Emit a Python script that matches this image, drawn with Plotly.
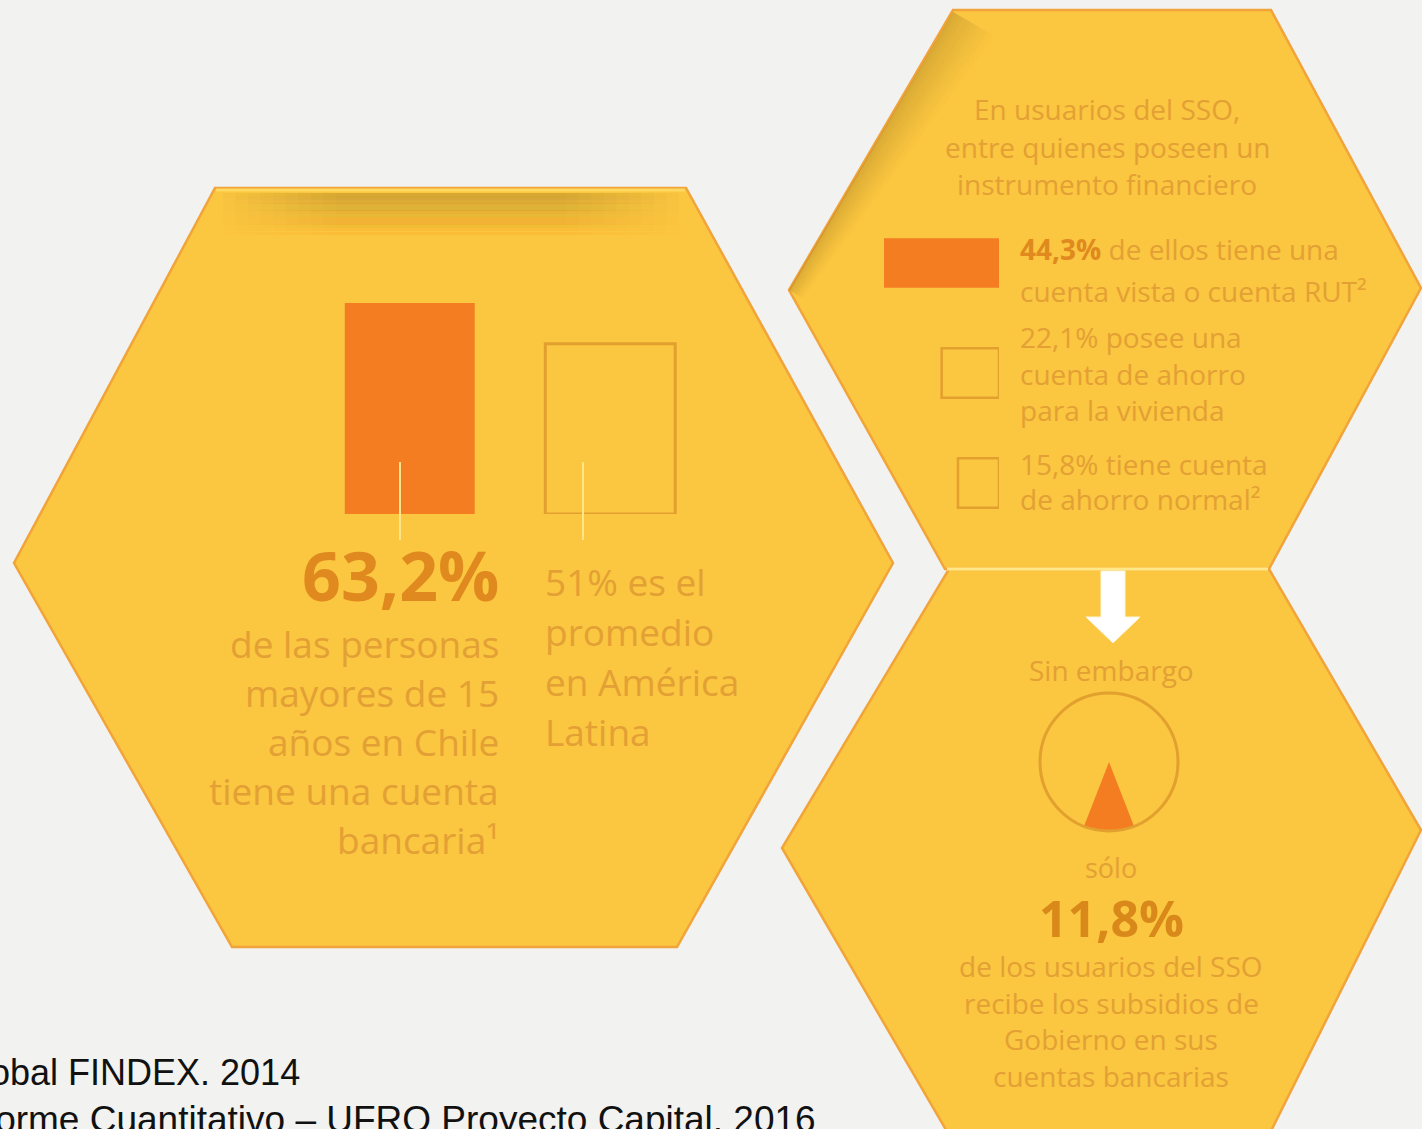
import plotly.graph_objects as go

W, H = 1422, 1129

# ---------------- data ----------------
bar_labels = ["Chile", "América Latina"]
bar_values = [63.2, 51.0]

account_labels = ["Cuenta vista o cuenta RUT", "Cuenta de ahorro para la vivienda", "Cuenta de ahorro normal"]
account_values = [44.3, 22.1, 15.8]

subsidy_labels = ["Recibe subsidios en sus cuentas", "No recibe"]
subsidy_values = [11.8, 88.2]

left_big = "63,2%"
left_lines = ["de las personas", "mayores de 15", "años en Chile", "tiene una cuenta", "bancaria¹"]
right_lines = ["51% es el", "promedio", "en América", "Latina"]

top_title = ["En usuarios del SSO,", "entre quienes poseen un", "instrumento financiero"]
legend_lines = [
    ["<b>44,3%</b> de ellos tiene una", "cuenta vista o cuenta RUT²"],
    ["22,1% posee una", "cuenta de ahorro", "para la vivienda"],
    ["15,8% tiene cuenta", "de ahorro normal²"],
]
bottom_pre = ["Sin embargo"]
bottom_small = "sólo"
bottom_big = "11,8%"
bottom_lines = ["de los usuarios del SSO", "recibe los subsidios de", "Gobierno en sus", "cuentas bancarias"]

footnotes = ["Global FINDEX. 2014", "Informe Cuantitativo – UFRO Proyecto Capital. 2016"]

# ---------------- style ----------------
BG = "#F2F2F0"
HEX = "#FBC640"
EDGE = "#F1A43A"
TXT = "#E3A034"
BOLD = "#E0891E"
ORANGE = "#F47D22"
OUT = "#E2A02E"
FONT = "Open Sans, Noto Sans, sans-serif"

hex_left = [(215, 188), (686, 188), (893, 563), (677, 947), (232, 947), (14, 563)]
hex_top = [(953, 10), (1271, 10), (1421, 288), (1269, 569), (945, 569), (789, 290)]
hex_bot = [(949, 569), (1269, 569), (1421, 830), (1269, 1135), (949, 1135), (782, 848)]


def path(pts):
    return "M " + " L ".join(f"{x:.1f},{y:.1f}" for x, y in pts) + " Z"


shapes = []
for hx in (hex_left, hex_top, hex_bot):
    shapes.append(dict(type="path", path=path(hx), xref="x", yref="y",
                       fillcolor=HEX, line=dict(color=EDGE, width=2.5), layer="below"))

# shadow band on top of left hexagon (smooth fade down and sideways)
rows = 14
nest = 10
for i in range(rows):
    y0 = 193 + i * 3.5
    op = 0.36 * (1 - i / rows) ** 1.5
    for k in range(nest):
        frac = 1.0 - 0.55 * k / nest
        cx, half = 451, 228 * frac
        shapes.append(dict(type="rect", xref="x", yref="y", x0=cx - half, x1=cx + half,
                           y0=y0, y1=y0 + 3.5, fillcolor="#8E6E1C", opacity=op / nest,
                           line=dict(width=0), layer="below"))
# bright line at top edge of left hexagon
shapes.append(dict(type="line", xref="x", yref="y", x0=216, x1=685, y0=190, y1=190,
                   line=dict(color="#FFD960", width=3), layer="below"))

# shadow along upper-left edge of top hexagon
(ax, ay), (bx, by) = (953, 10), (789, 290)
nx, ny = 0.863, 0.505
strips = 12
for i in range(strips):
    d0, d1 = i * 4, (i + 1) * 4
    op = 0.30 * (1 - i / strips) ** 1.3
    t0, t1 = 1.0, 0.35  # taper
    pts = [
        (ax + nx * d0 * t0, ay + ny * d0 * t0 + 2),
        (ax + nx * d1 * t0, ay + ny * d1 * t0 + 2),
        (bx + nx * d1 * t1, by + ny * d1 * t1),
        (bx + nx * d0 * t1, by + ny * d0 * t1),
    ]
    shapes.append(dict(type="path", path=path(pts), xref="x", yref="y",
                       fillcolor="#8E6E1C", opacity=op, line=dict(width=0), layer="below"))

# separator between the two right hexagons
shapes.append(dict(type="line", xref="x", yref="y", x0=947, x1=1268, y0=569, y1=569,
                   line=dict(color="#FFE88A", width=3), layer="below"))

# white arrow
arrow = [(1101, 571), (1125, 571), (1125, 617), (1140, 617), (1113, 643), (1086, 617), (1101, 617)]
shapes.append(dict(type="path", path=path(arrow), xref="x", yref="y",
                   fillcolor="#FFFFFF", line=dict(color="#FFF6D8", width=1), layer="below"))

# faint pointer lines under the bars
for px in (400, 583):
    shapes.append(dict(type="line", xref="x", yref="y", x0=px, x1=px, y0=462, y1=540,
                       line=dict(color="#FFE48A", width=2), layer="above"))

fig = go.Figure()

# vertical bars (left hexagon)
fig.add_trace(go.Bar(
    x=bar_labels, y=bar_values, xaxis="x2", yaxis="y2", width=0.648,
    marker=dict(color=[ORANGE, "rgba(0,0,0,0)"],
                line=dict(color=[ORANGE, OUT], width=[0, 3])),
    hoverinfo="skip", showlegend=False))

# horizontal bars (top-right hexagon legend)
fig.add_trace(go.Bar(
    x=account_values, y=account_labels, orientation="h", xaxis="x3", yaxis="y3", width=0.45,
    marker=dict(color=[ORANGE, "rgba(0,0,0,0)", "rgba(0,0,0,0)"],
                line=dict(color=[ORANGE, OUT, OUT], width=[0, 2.5, 2.5])),
    hoverinfo="skip", showlegend=False))

# pie (bottom-right hexagon)
pie_dom_x = [1040 / W, 1178 / W]
pie_dom_y = [1 - 831 / H, 1 - 693 / H]
fig.add_trace(go.Pie(
    labels=subsidy_labels, values=subsidy_values, sort=False, direction="clockwise",
    rotation=180 - subsidy_values[0] / sum(subsidy_values) * 360 / 2,
    marker=dict(colors=[ORANGE, "rgba(0,0,0,0)"], line=dict(width=0)),
    textinfo="none", hoverinfo="skip", showlegend=False,
    domain=dict(x=pie_dom_x, y=pie_dom_y)))
fig.add_trace(go.Pie(
    labels=["Total"], values=[sum(subsidy_values)], sort=False,
    marker=dict(colors=["rgba(0,0,0,0)"], line=dict(color=OUT, width=3)),
    textinfo="none", hoverinfo="skip", showlegend=False,
    domain=dict(x=pie_dom_x, y=pie_dom_y)))

# ---------------- annotations ----------------
ann = []


def add(text, x, y, size, color=TXT, xanchor="center", bold=False, family=FONT):
    ann.append(dict(text=(f"<b>{text}</b>" if bold else text), x=x, y=y, xref="x", yref="y",
                    xanchor=xanchor, yanchor="middle", showarrow=False,
                    font=dict(family=family, size=size, color=color)))


add(left_big, 501, 574, 68, BOLD, "right", bold=True)
for i, t in enumerate(left_lines):
    add(t, 501, 643 + i * 49, 37, TXT, "right")
for i, t in enumerate(right_lines):
    add(t, 543, 581 + i * 50, 37, TXT, "left")

for i, t in enumerate(top_title):
    add(t, 1107, 109 + i * 37.5, 28)
legend_y = [[249, 291], [337, 374, 410], [464, 499]]
for lines, ys in zip(legend_lines, legend_y):
    for t, yy in zip(lines, ys):
        add(t.replace("<b>", f"<b><span style='color:{BOLD}'>").replace("</b>", "</span></b>"),
            1018, yy, 28, TXT, "left")

add(bottom_pre[0], 1111, 670, 28)
add(bottom_small, 1111, 867, 27)
add(bottom_big, 1111, 918, 50, "#D9891A", bold=True)
for i, t in enumerate(bottom_lines):
    add(t, 1111, 966 + i * 36.5, 28)

# footnotes (paper coords so they can run off the left edge, as in the source image)
foot_font = "Liberation Sans Narrow, Liberation Sans, Arial, sans-serif"
ann.append(dict(text=footnotes[0], x=302 / W, y=1 - 1072 / H, xref="paper", yref="paper",
                xanchor="right", yanchor="middle", showarrow=False,
                font=dict(family=foot_font, size=36, color="#111111")))
ann.append(dict(text=footnotes[1], x=818 / W, y=1 - 1119 / H, xref="paper", yref="paper",
                xanchor="right", yanchor="middle", showarrow=False,
                font=dict(family=foot_font, size=37, color="#111111")))

hide = dict(visible=False, showgrid=False, zeroline=False, fixedrange=True)
fig.update_layout(
    width=W, height=H, margin=dict(l=0, r=0, t=0, b=0),
    paper_bgcolor=BG, plot_bgcolor="rgba(0,0,0,0)",
    xaxis=dict(range=[0, W], domain=[0, 1], **hide),
    yaxis=dict(range=[H, 0], domain=[0, 1], **hide),
    xaxis2=dict(type="category", range=[-0.5, 1.5], domain=[309.5 / W, 710.5 / W],
                anchor="y2", **hide),
    yaxis2=dict(range=[0, 70], domain=[1 - 514 / H, 1 - 280.2 / H], anchor="x2", **hide),
    xaxis3=dict(range=[50, 0], domain=[869.2 / W, 999 / W], anchor="y3", **hide),
    yaxis3=dict(type="category", range=[2.5, -0.5], domain=[1 - 538 / H, 1 - 208 / H],
                anchor="x3", **hide),
    shapes=shapes, annotations=ann, showlegend=False,
)

fig.write_html("out.html", config={"displayModeBar": False},
               post_script="document.body.style.margin='0px';document.body.style.overflow='hidden';")
